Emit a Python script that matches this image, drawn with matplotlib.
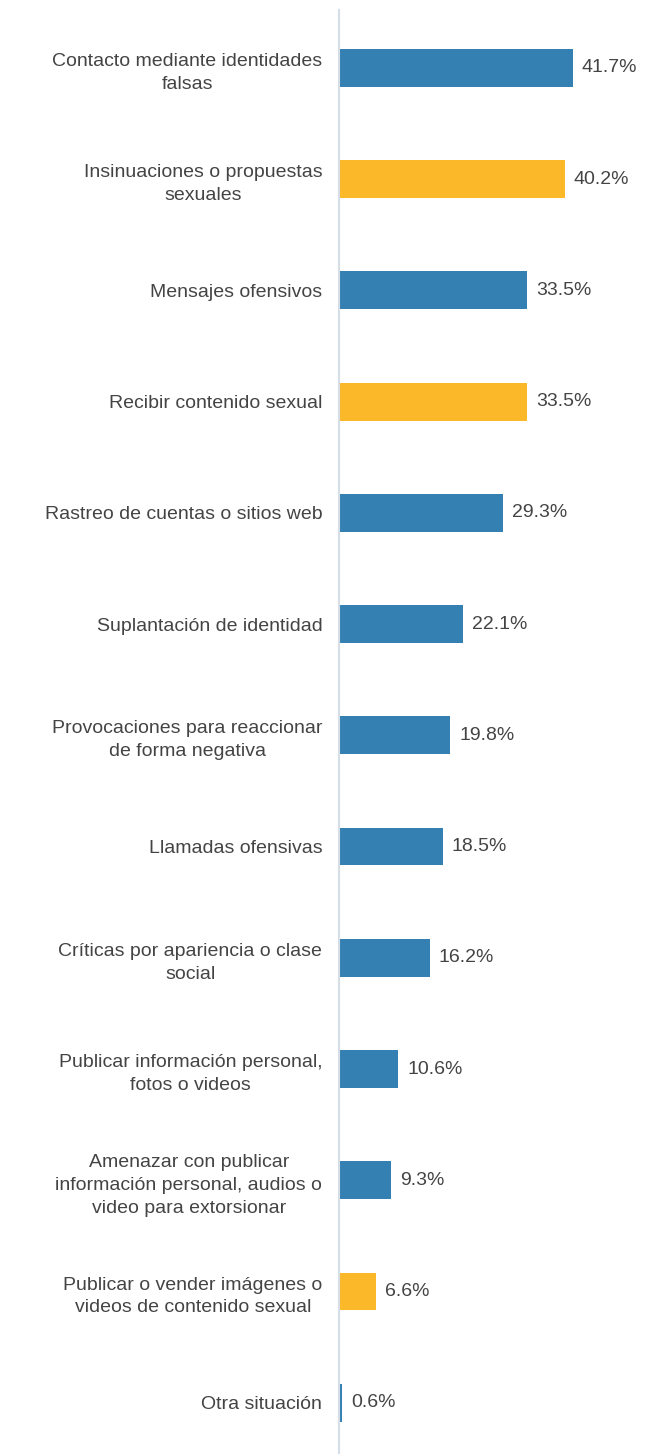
import matplotlib.pyplot as plt
import matplotlib

matplotlib.rcParams['font.family'] = ['Liberation Sans', 'DejaVu Sans']

categories = [
    'Contacto mediante identidades\nfalsas',
    'Insinuaciones o propuestas\nsexuales',
    'Mensajes ofensivos',
    'Recibir contenido sexual',
    'Rastreo de cuentas o sitios web',
    'Suplantación de identidad',
    'Provocaciones para reaccionar\nde forma negativa',
    'Llamadas ofensivas',
    'Críticas por apariencia o clase\nsocial',
    'Publicar información personal,\nfotos o videos',
    'Amenazar con publicar\ninformación personal, audios o\nvideo para extorsionar',
    'Publicar o vender imágenes o\nvideos de contenido sexual',
    'Otra situación',
]
values = [41.7, 40.2, 33.5, 33.5, 29.3, 22.1, 19.8, 18.5, 16.2, 10.6, 9.3, 6.6, 0.6]
highlight = [False, True, False, True, False, False, False, False, False, False, False, True, False]

BLUE = '#3580b3'
YELLOW = '#fbb829'
TEXT = '#444444'

fig = plt.figure(figsize=(6.45, 14.54), dpi=100)
ax = fig.add_axes([339 / 645, 0, 1 - 339 / 645, 1444 / 1454])

ypos = list(range(len(values)))
colors = [YELLOW if h else BLUE for h in highlight]
ax.barh(ypos, values, height=0.34, color=colors)

for y, v in zip(ypos, values):
    ax.text(v + 1.6, y, f'{v:.1f}%', va='center', ha='left', fontsize=14, color=TEXT)

ax.set_xlim(0, 306 / 5.61)
ax.set_ylim(12.46, -0.52)
ax.set_yticks(ypos)
ax.set_yticklabels(categories, fontsize=14, color=TEXT, linespacing=1.45,
                   ha='right', multialignment='center')
ax.tick_params(axis='y', length=0, pad=12)
ax.set_xticks([])

for s in ['top', 'right', 'bottom']:
    ax.spines[s].set_visible(False)
ax.spines['left'].set_color('#d5dde6')
ax.spines['left'].set_linewidth(1.5)

plt.savefig('out.png', dpi=100)
plt.close()
